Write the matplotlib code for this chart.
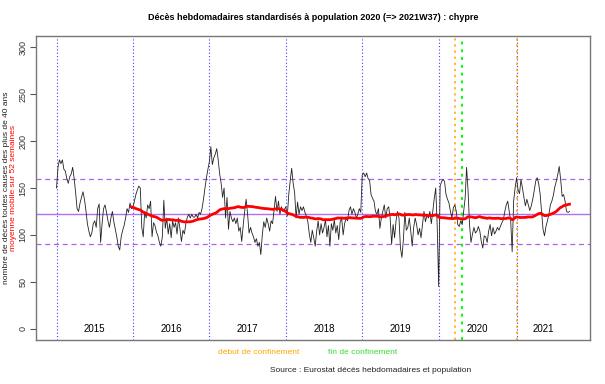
import matplotlib
matplotlib.use('Agg')
import matplotlib.pyplot as plt
import numpy as np
import pandas as pd

plt.rcParams['font.family'] = ['Liberation Sans', 'DejaVu Sans']

# weekly standardised deaths, 2015W01 .. 2021W37
deces_2015 = [150, 172, 180, 176, 180, 170, 168, 160, 155, 162, 165, 172, 160, 145, 128, 125,
              134, 140, 146, 138, 126, 112, 104, 98, 102, 112, 115, 108, 128, 133, 92, 112,
              128, 132, 124, 115, 108, 118, 125, 114, 106, 98, 88, 84, 98, 105, 110, 118,
              128, 124, 134, 128]
deces_2016 = [129, 136, 143, 148, 152, 150, 108, 98, 125, 118, 132, 128, 136, 98, 113, 110,
              103, 99, 92, 88, 98, 137, 107, 118, 101, 112, 97, 115, 108, 113, 101, 118,
              106, 93, 105, 101, 112, 119, 122, 118, 122, 119, 119, 122, 118, 124, 122, 128,
              138, 150, 161, 170]
deces_2017 = [178, 194, 175, 182, 186, 192, 180, 165, 155, 140, 150, 118, 140, 106, 125, 118,
              114, 118, 112, 118, 104, 108, 93, 110, 125, 138, 122, 102, 108, 102, 98, 92,
              96, 88, 92, 79, 100, 114, 108, 118, 112, 104, 115, 112, 126, 141, 125, 136,
              122, 130, 125, 127]
deces_2018 = [130, 120, 143, 158, 171, 155, 145, 118, 135, 122, 130, 126, 130, 124, 120, 114,
              101, 92, 105, 97, 88, 104, 115, 100, 112, 102, 108, 116, 98, 110, 88, 112,
              105, 116, 102, 110, 95, 114, 118, 100, 112, 118, 115, 126, 130, 122, 128, 124,
              118, 122, 128, 124]
deces_2019 = [164, 166, 162, 166, 160, 158, 143, 139, 136, 125, 122, 128, 107, 118, 125, 132,
              118, 128, 130, 118, 90, 111, 97, 115, 125, 118, 86, 76, 95, 124, 105, 108,
              118, 104, 88, 108, 118, 111, 100, 107, 97, 111, 125, 114, 121, 118, 125, 112,
              125, 139, 150, 110]
deces_2020 = [45, 152, 157, 159, 157, 143, 138, 134, 125, 118, 129, 132, 125, 111, 109, 115,
              111, 125, 139, 172, 147, 111, 92, 101, 108, 102, 104, 109, 104, 93, 86, 99,
              98, 92, 104, 111, 99, 108, 101, 104, 108, 105, 109, 113, 116, 125, 132, 136,
              125, 115, 82, 136, 150]
deces_2021 = [161, 148, 144, 159, 150, 140, 131, 138, 132, 126, 131, 138, 147, 157, 161, 155,
              144, 125, 106, 99, 109, 115, 122, 132, 136, 142, 151, 157, 164, 173, 159, 141,
              143, 136, 125, 124, 125]

annees = ['2015', '2016', '2017', '2018', '2019', '2020', '2021']
series = [deces_2015, deces_2016, deces_2017, deces_2018, deces_2019, deces_2020, deces_2021]

# confinements (year, week)
debut_confinement = [(2020, 12), (2021, 1)]
fin_confinement = [(2020, 17)]

seuil_haut = 160
seuil_bas = 90
moyenne = 122

deces = pd.Series(np.concatenate(series), dtype=float)
x = np.arange(len(deces))
moyenne_mobile = deces.rolling(52).mean()

debuts_annee = np.cumsum([0] + [len(s) for s in series[:-1]])
fins_annee = debuts_annee + np.array([len(s) for s in series])


def idx(annee, semaine):
    return debuts_annee[annees.index(str(annee))] + semaine - 1


fig = plt.figure(figsize=(6.05, 3.84), dpi=100)
ax = fig.add_axes([36 / 605, 44 / 384, 554 / 605, 304 / 384])

n = len(deces)
ax.set_xlim(-0.04 * (n - 1), (n - 1) * 1.04)
ax.set_ylim(-12, 312)

# reference lines
ax.axhline(seuil_haut, color='#b060f0', lw=0.9, ls=(0, (4, 3)))
ax.axhline(seuil_bas, color='#b060f0', lw=0.9, ls=(0, (4, 3)))
ax.axhline(moyenne, color='#b070f0', lw=1.0)

for d in debuts_annee:
    ax.axvline(d, color='#4040ff', lw=0.8, ls=(0, (1, 2)))
for a, s in debut_confinement:
    ax.axvline(idx(a, s), color='orange', lw=1.1, ls=(0, (1.5, 2.5)))
for a, s in fin_confinement:
    ax.axvline(idx(a, s), color='#00ff00', lw=1.4, ls=(0, (1.5, 2.5)))

ax.plot(x, deces, color='#222222', lw=0.6)
ax.plot(x, moyenne_mobile, color='red', lw=2)

for a, d, f in zip(annees, debuts_annee, fins_annee):
    ax.text((d + f) / 2, 0, a, ha='center', va='center', fontsize=7)

ax.set_xticks([])
ax.set_yticks(np.arange(0, 301, 50))
ax.set_yticklabels([str(v) for v in range(0, 301, 50)], rotation=90, va='center', fontsize=6.5, color='#333333')
ax.tick_params(axis='y', length=4, width=0.8, color='#555555', pad=2)
for sp in ax.spines.values():
    sp.set_color('#777777')
    sp.set_linewidth(1.0)

fig.text(313 / 605, 1 - 18 / 384, 'Décès hebdomadaires standardisés à population 2020 (=> 2021W37) : chypre',
         ha='center', va='center', fontsize=6.5, fontweight='bold')
fig.text(7 / 605, 1 - 188 / 384, 'nombre de décès toutes causes des plus de 40 ans',
         rotation=90, ha='center', va='center', fontsize=6, color='#222222')
fig.text(14 / 605, 1 - 188 / 384, 'moyenne mobile sur 52 semaines',
         rotation=90, ha='center', va='center', fontsize=6, color='red')
fig.text(259 / 605, 1 - 353 / 384, 'début de confinement', ha='center', va='center', fontsize=6, color='orange')
fig.text(363 / 605, 1 - 353 / 384, 'fin de confinement', ha='center', va='center', fontsize=6, color='#33dd33')
fig.text(371 / 605, 1 - 371 / 384, 'Source : Eurostat décès hebdomadaires et population',
         ha='center', va='center', fontsize=6, color='#222222')

fig.savefig('out.png', dpi=100)
